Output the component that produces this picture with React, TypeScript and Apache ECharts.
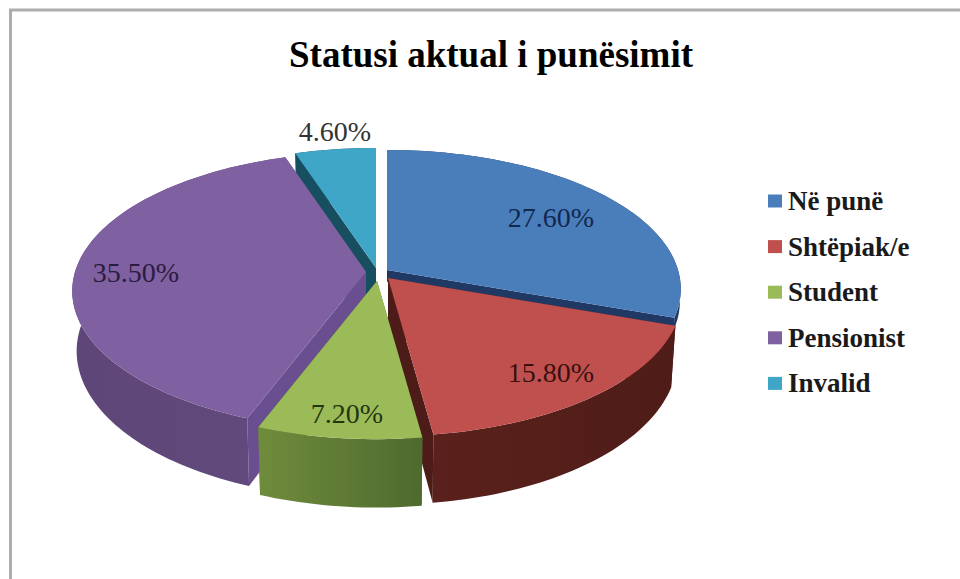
import React, { useEffect, useRef } from "react";
import * as echarts from "echarts";

const titleText = "Statusi aktual i punësimit";
const categories = ["Në punë", "Shtëpiak/e", "Student", "Pensionist", "Invalid"];
const shares = [27.6, 15.8, 7.2, 35.5, 4.6];

const topColors = ["#4a7ebb", "#c0504d", "#9bbb59", "#7f60a0", "#3fa6c8"];
const rimStops = [
  ["#1f3864", "#1f3864"],
  ["#4f1c17", "#5a211c"],
  ["#4f6a2e", "#6f8c3c"],
  ["#614a7d", "#5f4678"],
  ["#174f60", "#174f60"],
];
const cutColors = ["#1f3864", "#4d1c18", "#5a7030", "#6a4f90", "#174f60"];
const labelColors = ["#12284f", "#3a1010", "#25360f", "#2a1c40", "#333333"];

// Every slice is pulled away from the hub by its own offset.
const hubs = [
  [387, 270],
  [388, 278],
  [377, 281],
  [366, 272],
  [376, 268],
];
const labelSpots = [
  [551, 217],
  [551, 372],
  [347, 413],
  [136, 272],
  [335, 131],
];

// The blue slice only shows a thin strip of its wall above the red one.
const wallDepths = [0.2, 1, 1, 1, 1];

// Slices painted back to front.
const paintOrder = [4, 0, 1, 3, 2];

const RADIUS_X = 291;
const RADIUS_Y = 136.5;
const PERSPECTIVE = 0.137;
const DEPTH = 59;
const FOOT_SHRINK = 0.015;
const SERIF = '"Liberation Serif", "Times New Roman", serif';

const total = shares.reduce((a, b) => a + b, 0);
const angleBounds = (i: number) => {
  const before = shares.slice(0, i).reduce((a, b) => a + b, 0);
  return [(before / total) * 2 * Math.PI, ((before + shares[i]) / total) * 2 * Math.PI];
};

// Projects a rim angle onto the tilted disc; depth 1 is the foot of the wall.
const rimPoint = (hub: number[], angle: number, depth: number) => {
  const f = 1 / (1 + PERSPECTIVE * Math.cos(angle));
  return [
    hub[0] + RADIUS_X * Math.sin(angle) * f * (1 - FOOT_SHRINK * depth),
    hub[1] - RADIUS_Y * Math.cos(angle) * f + DEPTH * depth * f,
  ];
};

const arc = (hub: number[], from: number, to: number, depth: number) => {
  const steps = Math.max(8, Math.ceil(Math.abs(to - from) * 40));
  const pts: number[][] = [];
  for (let k = 0; k <= steps; k++) pts.push(rimPoint(hub, from + ((to - from) * k) / steps, depth));
  return pts;
};

const renderSlice = (i: number) => (_params: unknown, api: any) => {
  const value = api.value(0);
  const [a0, a1] = angleBounds(i);
  const hub = hubs[i];
  const d = wallDepths[i];
  const foot = [hub[0], hub[1] + DEPTH * d];
  const xs = arc(hub, a0, a1, 0).map((p) => p[0]);
  const wallFill = new echarts.graphic.LinearGradient(
    Math.min(...xs), 0, Math.max(...xs), 0,
    [
      { offset: 0, color: rimStops[i][1] },
      { offset: 1, color: rimStops[i][0] },
    ],
    true,
  );
  const wall = [...arc(hub, a0, a1, 0), ...arc(hub, a1, a0, d)];
  const startCut = [hub, rimPoint(hub, a0, 0), rimPoint(hub, a0, d), foot];
  const endCut = [hub, rimPoint(hub, a1, 0), rimPoint(hub, a1, d), foot];
  const top = [hub, ...arc(hub, a0, a1, 0)];
  const face = (points: number[][], fill: unknown) => ({
    type: "polygon",
    shape: { points },
    style: { fill },
  });
  return {
    type: "group",
    children: [
      face(startCut, cutColors[i]),
      face(endCut, cutColors[i]),
      face(wall, wallFill),
      face(top, topColors[i]),
      {
        type: "text",
        style: {
          x: labelSpots[i][0],
          y: labelSpots[i][1],
          text: `${value.toFixed(2)}%`,
          textAlign: "center",
          textVerticalAlign: "middle",
          fontFamily: SERIF,
          fontSize: 28,
          fill: labelColors[i],
        },
      },
    ],
  };
};

export default function App() {
  const ref = useRef<HTMLDivElement>(null);
  useEffect(() => {
    if (!ref.current) return;
    const chart = echarts.init(ref.current, undefined, { renderer: "svg" });
    chart.setOption({
      animation: false,
      backgroundColor: "#ffffff",
      title: {
        text: titleText,
        left: 486,
        top: 31,
        textAlign: "center",
        textStyle: { fontFamily: SERIF, fontSize: 37, fontWeight: "bold", color: "#000000" },
      },
      legend: {
        show: true,
        orient: "vertical",
        left: 768,
        top: 186,
        padding: 0,
        itemWidth: 14,
        itemHeight: 13,
        itemGap: 15.6,
        icon: "rect",
        selectedMode: false,
        textStyle: {
          fontFamily: SERIF,
          fontSize: 27,
          fontWeight: "bold",
          color: "#1a1a1a",
          lineHeight: 30,
          padding: [0, 0, 0, 1],
        },
        data: categories.map((name, i) => ({ name, itemStyle: { color: topColors[i] } })),
      },
      graphic: [
        {
          type: "polyline",
          shape: { points: [[10.5, 579], [10.5, 10], [960, 10]] },
          style: { stroke: "#adadad", lineWidth: 3, fill: "none" },
          silent: true,
        },
      ],
      series: paintOrder.map((i) => ({
        type: "custom",
        name: categories[i],
        coordinateSystem: "none",
        itemStyle: { color: topColors[i] },
        silent: true,
        renderItem: renderSlice(i),
        data: [[shares[i]]],
      })),
    });
    return () => chart.dispose();
  }, []);
  return <div ref={ref} style={{ position: "fixed", left: 0, top: 0, width: 960, height: 579 }} />;
}
